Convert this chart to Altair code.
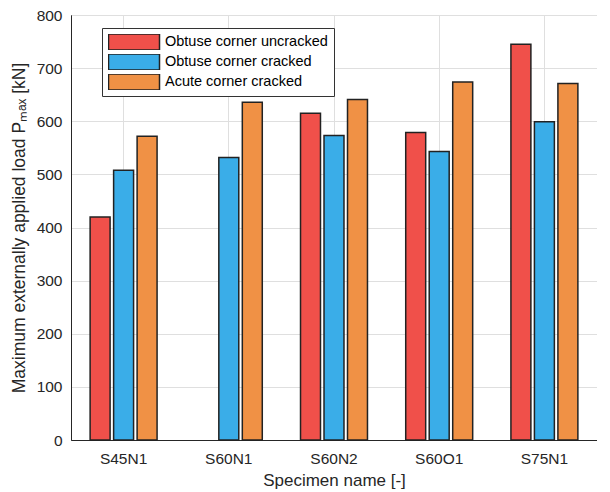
import altair as alt
import pandas as pd

specimens = ["S45N1", "S60N1", "S60N2", "S60O1", "S75N1"]
series_names = ["Obtuse corner uncracked", "Obtuse corner cracked", "Acute corner cracked"]
obtuse_uncracked = [420, None, 615, 579, 745]
obtuse_cracked = [508, 532, 573, 543, 599]
acute_cracked = [572, 636, 641, 674, 671]
colors = ["#F0504A", "#3AADE8", "#F09145"]
y_ticks = [0, 100, 200, 300, 400, 500, 600, 700, 800]

rows = []
for name, vals in zip(series_names, [obtuse_uncracked, obtuse_cracked, acute_cracked]):
    for s, v in zip(specimens, vals):
        if v is not None:
            rows.append({"Specimen": s, "Series": name, "Load": v})
df = pd.DataFrame(rows)

FONT = "Liberation Sans"

chart = alt.Chart(df).mark_bar(stroke="#222222", strokeWidth=1.5).encode(
    x=alt.X("Specimen:N", sort=specimens,
            scale=alt.Scale(paddingInner=0.33, paddingOuter=0.165),
            axis=alt.Axis(title="Specimen name [-]", labelAngle=0, grid=True, bandPosition=0.5,
                          ticks=False, labelPadding=11, titlePadding=6,
                          labelFont=FONT, labelFontSize=15.5, titleFont=FONT, titleFontSize=17)),
    xOffset=alt.XOffset("Series:N", sort=series_names,
                        scale=alt.Scale(paddingInner=0.15, paddingOuter=0.075)),
    y=alt.Y("Load:Q", scale=alt.Scale(domain=[0, 800], nice=False),
            axis=alt.Axis(title="Maximum externally applied load Pₘₐₓ [kN]", values=y_ticks,
                          ticks=False, labelPadding=9, titlePadding=8,
                          labelFont=FONT, labelFontSize=15.5, titleFont=FONT, titleFontSize=17.5)),
    color=alt.Color("Series:N", sort=series_names,
                    scale=alt.Scale(domain=series_names, range=colors),
                    legend=alt.Legend(orient="none", legendX=31, legendY=13, title=None,
                                      symbolType="M-1.5,-0.47L1.5,-0.47L1.5,0.47L-1.5,0.47Z",
                                      symbolSize=1156, symbolOffset=8, labelOffset=13,
                                      symbolStrokeColor="#222222", symbolStrokeWidth=1.5,
                                      symbolOpacity=1,
                                      labelFont=FONT, labelFontSize=14.5, labelColor="#000000",
                                      labelLimit=400,
                                      strokeColor="#333333", fillColor="white",
                                      padding=6, rowPadding=4, clipHeight=16)),
).properties(
    width=526, height=425,
    padding={"left": 2, "top": 0, "right": 0, "bottom": 0},
).configure_view(
    stroke="#262626", strokeWidth=1
).configure_axis(
    labelColor="#262626", titleColor="#262626", titleFontWeight="normal",
    gridColor="#dfdfdf", domainColor="#262626"
)

chart.save("out.html", embed_options={"renderer": "svg", "actions": False})
